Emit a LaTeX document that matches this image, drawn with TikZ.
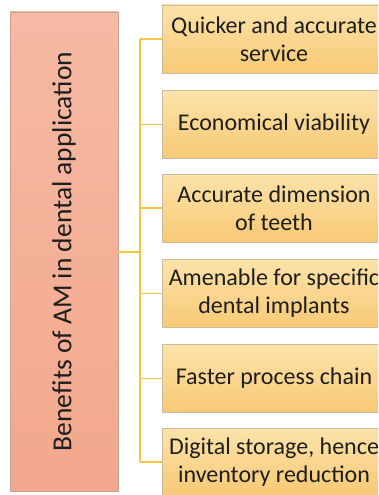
\documentclass[tikz,border=0pt]{standalone}
\usepackage{fontspec}
\setmainfont{Carlito}
\definecolor{ltop}{HTML}{F6B9A3}
\definecolor{lbot}{HTML}{F2A88C}
\definecolor{lborder}{HTML}{C9A292}
\definecolor{rtop}{HTML}{FCE3AA}
\definecolor{rbot}{HTML}{F7C974}
\definecolor{rborder}{HTML}{CDBB9C}
\definecolor{conncol}{HTML}{F5C542}
\definecolor{txt}{HTML}{1E1E1E}
\tikzset{
  leftbox/.style={draw=lborder, line width=0.8pt, top color=ltop, bottom color=lbot, inner sep=0pt},
  rbox/.style={draw=rborder, line width=0.8pt, top color=rtop, bottom color=rbot, minimum width=224pt, minimum height=68pt, align=center, inner sep=0pt, text=txt, font=\fontsize{24}{28}\selectfont},
  ltext/.style={rotate=90, text=txt, font=\fontsize{27.5}{30}\selectfont, inner sep=0pt},
  conn/.style={draw=conncol, line width=1.4pt}
}
\begin{document}
\begin{tikzpicture}[x=1pt,y=-1pt]
\useasboundingbox (0,0) rectangle (378,495);
\clip (0,0) rectangle (378,495);
\node[leftbox, minimum width=108pt, minimum height=479pt] (L) at (64,251.5) {};
\node[ltext] (Lt) at (L.center) {Benefits of AM in dental application};
\node[rbox] (b1) at (274,39) {Quicker and accurate\\service};
\node[rbox] (b2) at (274,124.5) {Economical viability};
\node[rbox] (b3) at (274,208) {Accurate dimension\\of teeth};
\node[rbox] (b4) at (274,293.5) {Amenable for specific\\dental implants};
\node[rbox] (b5) at (274,378.5) {Faster process chain};
\node[rbox] (b6) at (274,462) {Digital storage, hence\\inventory reduction};
\coordinate (j) at (140,252);
\draw[conn] (L.east |- j) -- (j);
\draw[conn] (j |- b1.west) -- (j |- b6.west);
\foreach \b in {b1,b2,b3,b4,b5,b6} {
  \draw[conn] (j |- \b.west) -- (\b.west);
}
\end{tikzpicture}
\end{document}
